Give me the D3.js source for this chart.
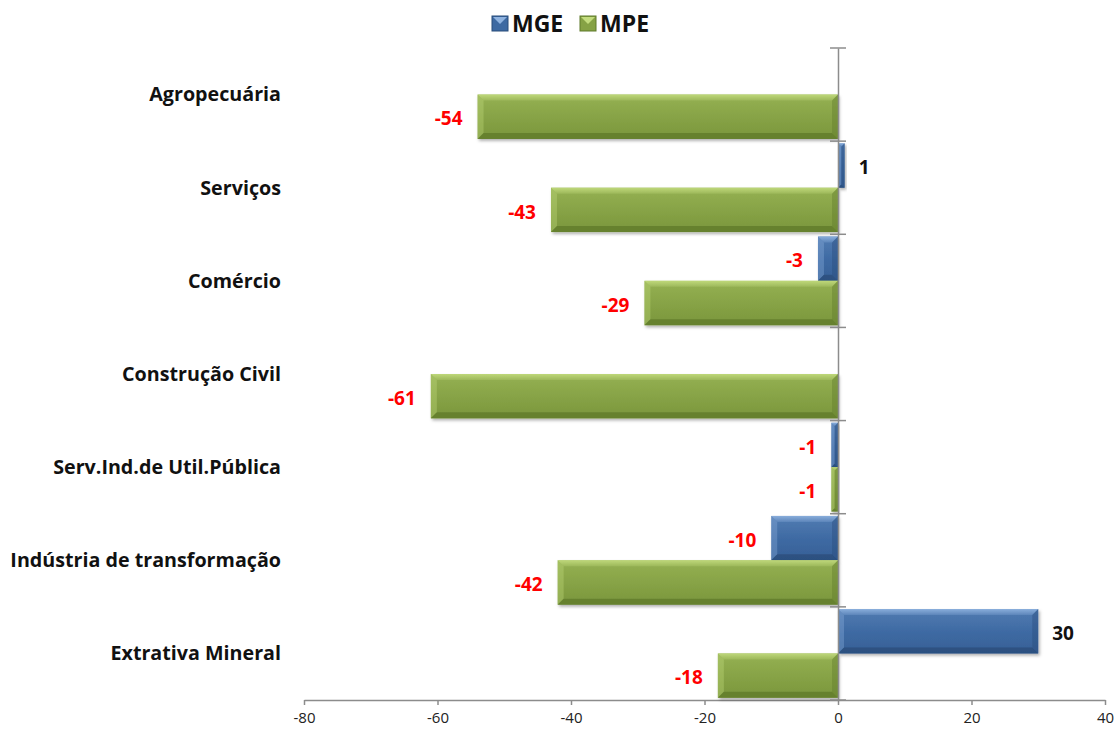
<!DOCTYPE html>
<html>
<head>
<meta charset="utf-8">
<script src="https://cdn.jsdelivr.net/npm/d3@7"></script>
<style>
  body { margin: 0; background: #fff; }
  svg { display: block; font-family: "Open Sans", "Liberation Sans", sans-serif; }
</style>
</head>
<body>
<div id="container"></div>
<script>
const categories = [
  "Agropecuária",
  "Serviços",
  "Comércio",
  "Construção Civil",
  "Serv.Ind.de Util.Pública",
  "Indústria de transformação",
  "Extrativa Mineral",
];
const seriesNames = ["MGE", "MPE"];
const mge = [0, 1, -3, 0, -1, -10, 30];
const mpe = [-54, -43, -29, -61, -1, -42, -18];
const xTicks = [-80, -60, -40, -20, 0, 20, 40];

const w = 1118;
const h = 733;
const plotLeft = 304, plotRight = 1105, plotTop = 48, plotBottom = 700;

const colors = {
  MGE: { main: "#3d69a2", light: "#8fb3e0", dark: "#294c7a" },
  MPE: { main: "#86a245", light: "#c3dc7e", dark: "#5f7a2b" },
};

const rows = [];
categories.forEach((c, i) => {
  rows.push({ cat: c, series: "MGE", value: mge[i] });
  rows.push({ cat: c, series: "MPE", value: mpe[i] });
});

const svg = d3.select("#container").append("svg")
  .attr("width", w).attr("height", h);

const defs = svg.append("defs");
const shadow = defs.append("filter").attr("id", "shadow")
  .attr("x", "-10%").attr("y", "-20%").attr("width", "130%").attr("height", "160%");
shadow.append("feDropShadow").attr("dx", 1.5).attr("dy", 2)
  .attr("stdDeviation", 1.5).attr("flood-color", "#000").attr("flood-opacity", 0.3);

// soft vertical shading for bar faces
seriesNames.forEach((s) => {
  const c = colors[s];
  const lg = defs.append("linearGradient").attr("id", "face" + s)
    .attr("x1", 0).attr("y1", 0).attr("x2", 0).attr("y2", 1);
  lg.append("stop").attr("offset", "0%").attr("stop-color", d3.interpolateRgb(c.main, c.light)(0.25));
  lg.append("stop").attr("offset", "55%").attr("stop-color", c.main);
  lg.append("stop").attr("offset", "100%").attr("stop-color", d3.interpolateRgb(c.main, c.dark)(0.3));
  const tg = defs.append("linearGradient").attr("id", "topb" + s)
    .attr("x1", 0).attr("y1", 0).attr("x2", 0).attr("y2", 1);
  tg.append("stop").attr("offset", "0%").attr("stop-color", c.light);
  tg.append("stop").attr("offset", "100%").attr("stop-color", d3.interpolateRgb(c.main, c.light)(0.4));
});

const xScale = d3.scaleLinear().domain([-80, 40]).range([plotLeft, plotRight]);
const yScale = d3.scaleBand().domain(categories).range([plotTop, plotBottom]);
const ySub = d3.scaleBand().domain(seriesNames)
  .range([0, yScale.bandwidth()]).paddingOuter(0.05);

// x axis
const xAxis = svg.append("g")
  .attr("transform", `translate(0, ${plotBottom})`)
  .call(d3.axisBottom(xScale).tickValues(xTicks).tickFormat((d) => String(d))
    .tickSize(5).tickSizeOuter(0).tickPadding(7));
xAxis.select(".domain").attr("stroke", "#8c8c8c").attr("stroke-width", 1.5);
xAxis.selectAll(".tick line").attr("stroke", "#8c8c8c").attr("stroke-width", 1.5);
xAxis.selectAll(".tick text").attr("font-size", 15).attr("fill", "#222")
  .attr("font-family", "Open Sans, sans-serif");

// bars
const bars = svg.append("g").selectAll("g.bar")
  .data(rows.filter((d) => d.value !== 0))
  .enter().append("g").attr("class", "bar")
  .attr("filter", "url(#shadow)");

bars.each(function (d) {
  const g = d3.select(this);
  const x0 = xScale(Math.min(0, d.value));
  const x1 = xScale(Math.max(0, d.value));
  const y0 = yScale(d.cat) + ySub(d.series);
  const bh = ySub.bandwidth();
  const bw = x1 - x0;
  const c = colors[d.series];
  const b = Math.min(6, bw / 2, bh / 2);
  g.append("rect").attr("x", x0).attr("y", y0).attr("width", bw).attr("height", bh)
    .attr("fill", `url(#face${d.series})`);
  // bevel: top, left light; bottom, right dark
  g.append("polygon").attr("fill", `url(#topb${d.series})`).attr("opacity", 0.9)
    .attr("points", [[x0, y0], [x1, y0], [x1 - b, y0 + b], [x0 + b, y0 + b]].join(" "));
  g.append("polygon").attr("fill", c.light).attr("opacity", 0.35)
    .attr("points", [[x0, y0], [x0 + b, y0 + b], [x0 + b, y0 + bh - b], [x0, y0 + bh]].join(" "));
  g.append("polygon").attr("fill", c.dark).attr("opacity", 0.75)
    .attr("points", [[x0, y0 + bh], [x0 + b, y0 + bh - b], [x1 - b, y0 + bh - b], [x1, y0 + bh]].join(" "));
  g.append("polygon").attr("fill", c.dark).attr("opacity", 0.4)
    .attr("points", [[x1, y0], [x1, y0 + bh], [x1 - b, y0 + bh - b], [x1 - b, y0 + b]].join(" "));
});

// value labels
svg.append("g").selectAll("text")
  .data(rows.filter((d) => d.value !== 0))
  .enter().append("text")
  .attr("x", (d) => d.value < 0 ? xScale(d.value) - 15 : xScale(d.value) + 14)
  .attr("y", (d) => yScale(d.cat) + ySub(d.series) + ySub.bandwidth() / 2 + 2)
  .attr("dy", "0.35em")
  .attr("text-anchor", (d) => d.value < 0 ? "end" : "start")
  .attr("font-size", 19).attr("font-weight", "bold")
  .attr("fill", (d) => d.value < 0 ? "#ff0000" : "#111")
  .text((d) => d.value);

// vertical axis at zero
const yAxis = svg.append("g")
  .attr("transform", `translate(${xScale(0)}, 0)`)
  .call(d3.axisLeft(yScale).tickSize(0).tickFormat(""));
yAxis.select(".domain").attr("stroke", "#8c8c8c").attr("stroke-width", 1.5);
yAxis.selectAll(".tick").remove();
const bounds = categories.map((c) => yScale(c)).concat([plotBottom]);
yAxis.selectAll("line.bnd").data(bounds).enter().append("line")
  .attr("class", "bnd")
  .attr("x1", -8).attr("x2", 8)
  .attr("y1", (d) => d).attr("y2", (d) => d)
  .attr("stroke", "#8c8c8c").attr("stroke-width", 1.5);

// category labels
svg.append("g").selectAll("text")
  .data(categories).enter().append("text")
  .attr("x", 281)
  .attr("y", (d) => yScale(d) + yScale.bandwidth() / 2)
  .attr("dy", "0.35em")
  .attr("text-anchor", "end")
  .attr("font-size", 19.7).attr("font-weight", "bold").attr("fill", "#111")
  .text((d) => d);

// legend
const legend = svg.append("g").attr("transform", "translate(492, 24)");
const legendX = { MGE: 0, MPE: 88 };
seriesNames.forEach((s) => {
  const lg = legend.append("g").attr("transform", `translate(${legendX[s]}, 0)`);
  const c = colors[s];
  lg.append("rect").attr("x", 0).attr("y", -8).attr("width", 16).attr("height", 15)
    .attr("fill", c.main).attr("stroke", c.dark);
  lg.append("polygon").attr("fill", c.light)
    .attr("points", "1,-7 15,-7 8,0");
  lg.append("text").attr("x", 20).attr("y", 0).attr("dy", "0.35em")
    .attr("font-size", 23).attr("font-weight", "bold").attr("fill", "#111")
    .text(s);
});
</script>
</body>
</html>
